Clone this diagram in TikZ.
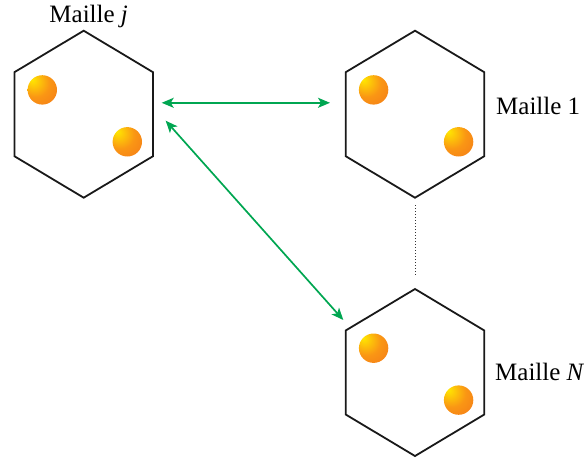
\documentclass[tikz,border=0pt]{standalone}
\usepackage{fontspec}
\setmainfont{Liberation Serif}
\usetikzlibrary{arrows.meta, positioning, calc}

\definecolor{liengreen}{RGB}{0,166,81}
\definecolor{billeA}{RGB}{255,232,0}
\definecolor{billeB}{RGB}{250,150,20}
\definecolor{billeC}{RGB}{236,90,30}
\pgfdeclareradialshading{bille}{\pgfpoint{-18bp}{18bp}}{color(0bp)=(billeA); color(24bp)=(billeB); color(72bp)=(billeC)}

\begin{document}
\begin{tikzpicture}[
  x=1pt, y=-1pt,
  hexa/.style={line width=1.8pt, black!90, line join=miter},
  lien/.style={draw=liengreen, line width=1.7pt, {Stealth[length=12pt,width=10pt,inset=3pt]}-{Stealth[length=12pt,width=10pt,inset=3pt]}},
  etiquette/.style={font=\fontsize{25}{30}\selectfont, inner sep=0pt},
]
\useasboundingbox (0,0) rectangle (584,461);

% --- one cell ---
\def\hexR{83.5}   % centre to top vertex
\def\hexW{69.3}   % centre to side
\def\hexS{42}     % half a vertical side
\def\billeR{14.7} % particle radius

% Cells: name / centre x / centre y
\foreach \nom/\cx/\cy in {mj/83.7/114.2, m1/415/114.2, mN/415/372.5}{
  \coordinate (\nom) at (\cx,\cy);
  \draw[hexa] (\cx,\cy-\hexR) -- (\cx+\hexW,\cy-\hexS) -- (\cx+\hexW,\cy+\hexS)
    -- (\cx,\cy+\hexR) -- (\cx-\hexW,\cy+\hexS) -- (\cx-\hexW,\cy-\hexS) -- cycle;
  % two particles per cell
  \shade[shading=bille] (\cx-41.4,\cy-24.3) circle (\billeR);
  \shade[shading=bille] (\cx+43.6,\cy+27.6) circle (\billeR);
}

% Labels
\node[etiquette, anchor=base] (lj) at ($(mj)+(5,-92)$) {Maille \textit{j}};
\node[etiquette, anchor=base west] (l1) at ($(m1)+(81,0)$) {Maille 1};
\node[etiquette, anchor=base west] (lN) at ($(mN)+(80,7.5)$) {Maille \textit{N}};

% Arrow ends
\coordinate (jA) at ($(mj)+(78,-11.4)$);
\coordinate (jB) at ($(mj)+(82,6.5)$);
\coordinate (1A) at ($(m1)+(-85,-11.4)$);
\coordinate (NA) at ($(mN)+(-71.7,-52.5)$);

% Interactions
\draw[lien] (jA) -- (1A);
\draw[lien] (jB) -- (NA);

% Cells between 1 and N
\draw[dotted, line width=1pt, black!80] ($(m1)+(0,91)$) -- ($(mN)+(0,-97)$);

\end{tikzpicture}
\end{document}
